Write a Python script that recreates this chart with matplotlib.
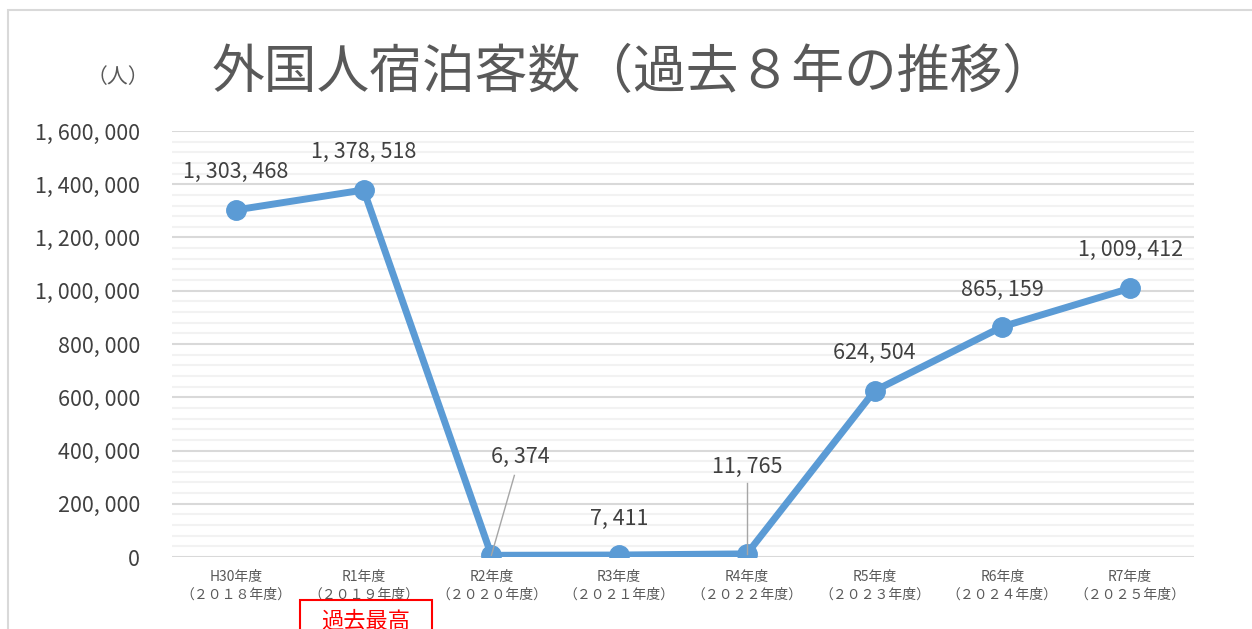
import numpy as np
import matplotlib.pyplot as plt
from matplotlib.patches import Rectangle
from matplotlib.ticker import MultipleLocator

plt.rcParams['font.family'] = ['Noto Sans CJK JP', 'DejaVu Sans']

years = ['H30年度\n（２０１８年度）', 'R1年度\n（２０１９年度）', 'R2年度\n（２０２０年度）',
         'R3年度\n（２０２１年度）', 'R4年度\n（２０２２年度）', 'R5年度\n（２０２３年度）',
         'R6年度\n（２０２４年度）', 'R7年度\n（２０２５年度）']
guests = [1303468, 1378518, 6374, 7411, 11765, 624504, 865159, 1009412]
yticks = [0, 200000, 400000, 600000, 800000, 1000000, 1200000, 1400000, 1600000]

def fmt(v):
    return '{:,}'.format(v).replace(',', ', ')

fig = plt.figure(figsize=(12.52, 6.29), dpi=100)
ax = fig.add_axes([172 / 1252, 1 - 557 / 629, 1022 / 1252, 426 / 629])

# outer chart frame
fig.patches.append(Rectangle((8 / 1252, -0.1), 1.0, 1 - 10 / 629 + 0.1, transform=fig.transFigure,
                             fill=False, edgecolor='#D9D9D9', linewidth=1.5))

x = np.arange(len(guests))
ax.plot(x, guests, color='#5B9BD5', linewidth=5, marker='o', markersize=14, zorder=3,
        solid_capstyle='round')

ax.set_xlim(-0.5, len(guests) - 0.5)
ax.set_ylim(0, 1600000)
ax.set_yticks(yticks)
ax.set_yticklabels([fmt(v) for v in yticks], fontsize=15.5, color='#404040')
ax.yaxis.set_minor_locator(MultipleLocator(40000))
ax.set_xticks(x)
ax.set_xticklabels(years, fontsize=10, color='#595959', linespacing=1.4)
ax.tick_params(axis='y', which='both', length=0, pad=23)
ax.tick_params(axis='x', length=0, pad=9)
ax.grid(axis='y', which='major', color='#D9D9D9', linewidth=1.5, zorder=0)
ax.grid(axis='y', which='minor', color='#F2F2F2', linewidth=1.5, zorder=0)
ax.set_axisbelow(True)
for s in ax.spines.values():
    s.set_visible(False)

# data labels
offsets = [38, 38, 98, 36, 87, 38, 37, 38]
for i, v in enumerate(guests):
    dx = 29 if i == 2 else 0
    ax.annotate(fmt(v), (i, v), xytext=(dx, offsets[i]), textcoords='offset pixels',
                ha='center', va='center', fontsize=15.5, color='#404040')

# leader lines
ax.plot([2, 2.18], [guests[2], guests[2] + 300000], color='#A6A6A6', linewidth=1, zorder=4)
ax.plot([4, 4], [guests[4], guests[4] + 265000], color='#A6A6A6', linewidth=1, zorder=4)

fig.text(634 / 1252, 1 - 72 / 629, '外国人宿泊客数（過去８年の推移）', fontsize=38,
         color='#595959', ha='center', va='center')
fig.text(118 / 1252, 1 - 77 / 629, '（人）', fontsize=15, color='#595959', ha='center', va='center')

fig.patches.append(Rectangle((300 / 1252, -0.05), 132 / 1252, 0.05 + 1 - 600 / 629,
                             transform=fig.transFigure, fill=False, edgecolor='#FF0000', linewidth=1.5))
fig.text(366 / 1252, 1 - 621 / 629, '過去最高', fontsize=16, color='#FF0000', ha='center', va='center')

fig.savefig('out.png', dpi=100)
